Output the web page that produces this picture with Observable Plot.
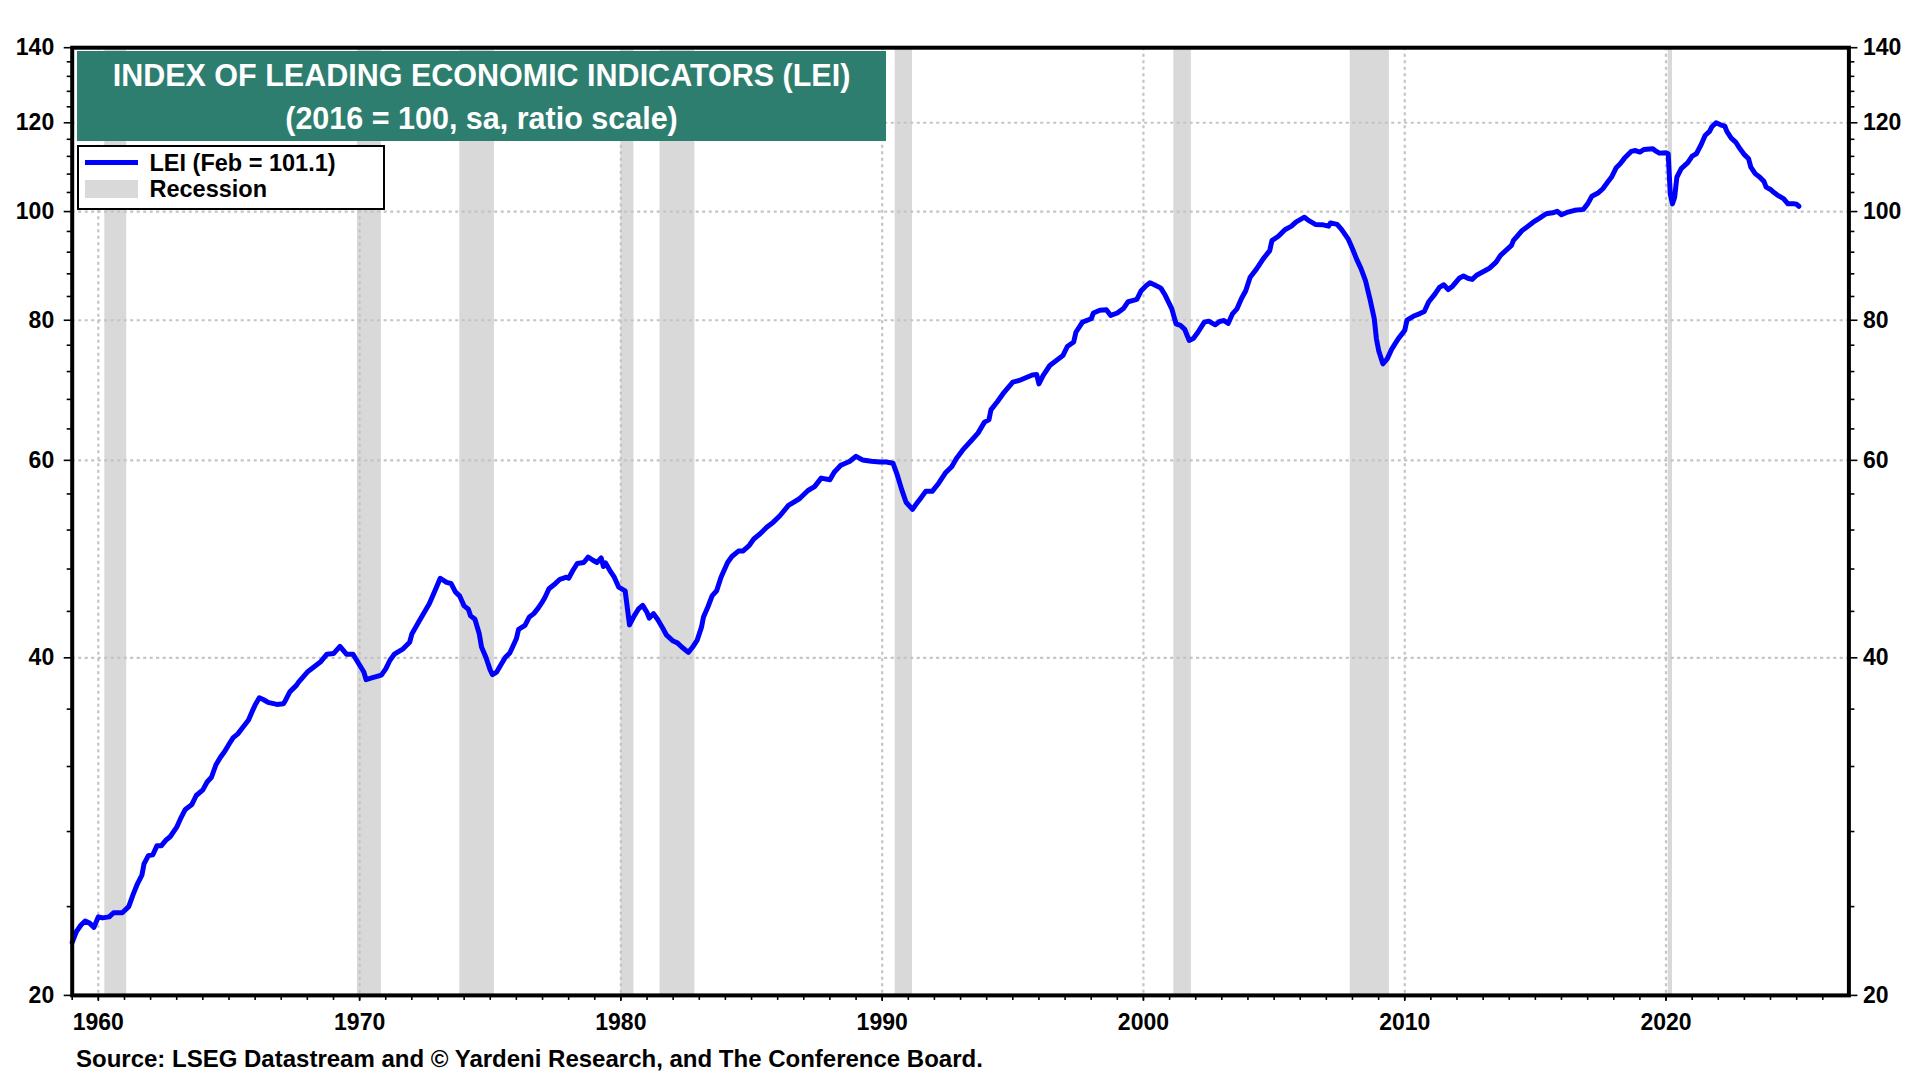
<!DOCTYPE html>
<html>
<head>
<meta charset="utf-8">
<script src="https://cdn.jsdelivr.net/npm/d3@7"></script>
<script src="https://cdn.jsdelivr.net/npm/@observablehq/plot@0.6"></script>
<style>
  html, body { margin: 0; padding: 0; background: #fff; }
  #wrap { position: relative; width: 1920px; height: 1080px; overflow: hidden;
          font-family: "Liberation Sans", Arial, sans-serif; font-weight: bold; color: #000; }
  #chart { position: absolute; left: 0; top: 0; }
  #title { position: absolute; left: 77px; top: 51px; width: 809px; height: 90px;
           background: #2e7e70; color: #fff; font-size: 30.5px; }
  #title div { position: absolute; left: 0; width: 100%; text-align: center; line-height: 36px; white-space: nowrap; }
  #legend { position: absolute; left: 77.3px; top: 145px; width: 308px; height: 64.5px;
            box-sizing: border-box; border: 2.5px solid #000; background: #fff; font-size: 23.5px; }
  #legend .sw { position: absolute; }
  #legend .lb { position: absolute; line-height: 28px; white-space: nowrap; }
  #source { position: absolute; left: 76px; top: 1045px; font-size: 24px; line-height: 28px; white-space: nowrap; }
</style>
</head>
<body>
<div id="wrap">
  <div id="chart"></div>
  <div id="title">
    <div style="top:6.3px">INDEX OF LEADING ECONOMIC INDICATORS (LEI)</div>
    <div style="top:48.8px">(2016 = 100, sa, ratio scale)</div>
  </div>
  <div id="legend">
    <div class="sw" style="left:6.2px;top:13px;width:53px;height:4.6px;background:#0000ff"></div>
    <div class="lb" style="left:70.2px;top:2.3px">LEI (Feb = 101.1)</div>
    <div class="sw" style="left:6.2px;top:32.5px;width:53px;height:18px;background:#d9d9d9"></div>
    <div class="lb" style="left:70.2px;top:27.8px">Recession</div>
  </div>
  <div id="source">Source: LSEG Datastream and © Yardeni Research, and The Conference Board.</div>
</div>
<script>
// ---- data ----
const months = [
"1959-01","1959-03","1959-05","1959-07","1959-09","1959-11","1960-01","1960-03","1960-06","1960-08","1960-12",
"1961-03","1961-05","1961-07","1961-09","1961-10","1961-12","1962-02","1962-04","1962-06","1962-08","1962-10",
"1963-01","1963-03","1963-05","1963-08","1963-10","1964-01","1964-03","1964-05","1964-07","1964-09","1964-11",
"1965-01","1965-03","1965-05","1965-07","1965-10","1965-12","1966-01","1966-03","1966-05","1966-07","1966-11",
"1967-02","1967-03","1967-05","1967-08","1967-09","1967-11","1968-01","1968-04","1968-07","1968-10",
"1969-01","1969-04","1969-07","1969-10","1969-12","1970-03","1970-04","1970-07","1970-11",
"1971-01","1971-03","1971-05","1971-09","1971-12","1972-01","1972-04","1972-09","1972-12",
"1973-02","1973-05","1973-07","1973-09","1973-11","1974-01","1974-03","1974-04","1974-06","1974-08","1974-09","1974-11",
"1975-01","1975-02","1975-04","1975-06","1975-08","1975-10","1975-11","1976-01","1976-02","1976-05","1976-07","1976-09","1976-11",
"1977-01","1977-02","1977-04","1977-07","1977-09","1977-12","1978-01","1978-03","1978-05","1978-08","1978-10","1978-12",
"1979-02","1979-04","1979-05","1979-06","1979-08","1979-10","1979-12","1980-03","1980-05","1980-07","1980-09","1980-11",
"1981-01","1981-02","1981-04","1981-06","1981-08","1981-10","1982-01","1982-03","1982-05","1982-08","1982-10","1982-12",
"1983-02","1983-03","1983-05","1983-07","1983-09","1983-11","1984-02","1984-04","1984-07","1984-09","1984-12",
"1985-02","1985-05","1985-08","1985-11","1986-02","1986-06","1986-11","1987-03","1987-06","1987-09",
"1988-01","1988-03","1988-06","1988-10","1989-01","1989-04","1989-08","1989-12","1990-03","1990-06","1990-08","1990-10","1990-12",
"1991-03","1991-05","1991-07","1991-09","1991-12","1992-03","1992-06","1992-09","1992-11","1993-02","1993-06","1993-09","1993-12",
"1994-02","1994-03","1994-06","1994-09","1995-01","1995-04","1995-07","1995-10","1995-12","1996-01","1996-03","1996-06","1996-09","1996-12",
"1997-02","1997-05","1997-06","1997-09","1998-01","1998-02","1998-05","1998-08","1998-10","1999-01","1999-04","1999-06","1999-08","1999-10","1999-12",
"2000-02","2000-04","2000-06","2000-09","2000-11","2001-02","2001-04","2001-06","2001-08","2001-10","2001-12",
"2002-02","2002-05","2002-07","2002-10","2002-12","2003-02","2003-04","2003-06","2003-08","2003-10","2003-12",
"2004-02","2004-05","2004-08","2004-11","2004-12","2005-03","2005-06","2005-09","2005-11","2006-03","2006-05","2006-08","2006-11",
"2007-02","2007-03","2007-06","2007-08","2007-11","2008-01","2008-03","2008-05","2008-07","2008-09","2008-11","2008-12",
"2009-01","2009-03","2009-05","2009-07","2009-10","2010-01","2010-02","2010-05","2010-08","2010-10","2010-12",
"2011-03","2011-05","2011-07","2011-09","2011-11","2012-02","2012-04","2012-06","2012-08","2012-10",
"2013-02","2013-04","2013-07","2013-09","2013-11","2014-02","2014-03","2014-05","2014-07","2014-09","2014-12",
"2015-03","2015-06","2015-09","2015-11","2016-01","2016-04","2016-07","2016-11","2017-01","2017-03","2017-06","2017-08","2017-10","2017-12",
"2018-02","2018-04","2018-06","2018-09","2018-11","2019-01","2019-03","2019-07","2019-08","2019-10",
"2020-01","2020-02","2020-03","2020-04","2020-05","2020-06","2020-08","2020-11","2021-01","2021-03","2021-05","2021-07","2021-09","2021-10","2021-12",
"2022-02","2022-04","2022-05","2022-07","2022-09","2022-11","2023-01","2023-03","2023-04","2023-06","2023-08","2023-10","2023-11",
"2024-01","2024-02","2024-04","2024-07","2024-09","2024-12","2025-01","2025-02"
];
const lei = [
22.3,22.8,23.1,23.3,23.2,23.0,23.5,23.45,23.5,23.7,23.7,
24.0,24.6,25.15,25.6,26.2,26.65,26.7,27.2,27.2,27.5,27.7,
28.25,28.8,29.3,29.6,30.15,30.5,31.0,31.3,32.1,32.6,33.0,
33.5,33.95,34.2,34.6,35.2,35.95,36.3,36.85,36.7,36.5,36.35,
36.4,36.65,37.3,37.8,38.05,38.45,38.85,39.25,39.65,40.3,
40.35,40.95,40.3,40.3,39.7,38.85,38.25,38.4,38.6,
39.1,39.8,40.3,40.75,41.3,42.0,43.0,44.7,46.1,
47.1,46.7,46.6,45.8,45.4,44.5,44.2,43.6,43.3,42.0,40.9,40.05,
39.0,38.65,38.85,39.45,40.05,40.4,40.8,41.6,42.4,42.75,43.5,43.8,44.3,
44.9,45.25,46.1,46.6,47.0,47.2,47.1,47.85,48.55,48.65,49.2,48.9,
48.65,49.1,48.25,48.6,47.85,47.2,46.25,45.9,42.8,43.55,44.2,44.55,
43.9,43.4,43.8,43.25,42.6,41.9,41.4,41.25,40.9,40.45,40.9,41.45,
42.6,43.5,44.4,45.45,45.9,47.2,48.65,49.25,49.8,49.8,50.4,
51.05,51.6,52.3,52.85,53.55,54.7,55.45,56.4,56.85,57.85,
57.65,58.55,59.4,59.85,60.5,60.05,59.9,59.8,59.8,59.65,58.2,56.5,55.05,
54.25,54.95,55.6,56.3,56.3,57.25,58.45,59.25,60.2,61.3,62.5,63.45,64.9,
65.2,66.55,67.7,69.0,70.45,70.7,71.1,71.5,71.55,70.2,71.45,72.9,73.65,74.4,
75.8,76.5,78.05,79.7,80.25,81.2,81.65,81.75,80.8,81.2,82.0,83.1,83.3,83.5,85.0,
85.8,86.4,86.05,85.45,84.2,81.9,79.4,79.15,78.5,76.75,77.1,
78.05,79.7,79.85,79.25,79.8,79.95,79.5,81.1,81.9,83.6,85.0,
87.4,88.9,90.75,92.3,94.2,95.05,96.35,97.05,97.85,98.85,98.15,97.4,97.35,
97.05,97.7,97.4,96.4,94.55,92.65,90.65,88.9,86.8,83.6,80.25,77.0,
75.2,73.15,73.9,75.35,77.0,78.35,80.0,80.65,81.1,81.45,83.05,
84.45,85.6,86.05,85.2,85.8,87.2,87.6,87.2,87.0,87.75,
88.6,89.05,90.15,91.4,92.15,93.3,94.25,95.2,96.2,96.85,97.85,
98.65,99.55,99.75,100.05,99.35,99.9,100.25,100.45,101.6,103.2,103.95,104.8,106.1,107.35,
109.35,110.3,111.6,113.15,113.35,113.0,113.6,113.75,113.35,112.75,
112.85,112.6,103.7,101.6,103.0,107.3,109.2,110.55,112.05,112.6,114.55,116.9,117.9,118.95,120.0,
119.5,119.2,117.9,116.3,115.35,113.75,112.4,111.45,109.55,108.1,107.35,106.4,105.15,
104.65,104.2,103.5,102.7,101.6,101.6,101.5,101.1
];
const recStart = ["1960-04","1969-12","1973-11","1980-01","1981-07","1990-07","2001-03","2007-12","2020-02"];
const recEnd   = ["1961-02","1970-11","1975-03","1980-07","1982-11","1991-03","2001-11","2009-06","2020-04"];
const decadeLabels = ["1960","1970","1980","1990","2000","2010","2020"];
const yearTicks = d3.range(1959, 2027).map(String);
const yMajor = [20, 40, 60, 80, 100, 120, 140];
const yMinor = [24,28,32,36,44,48,52,56,64,68,72,76,84,88,92,96,104,108,112,116,124,128,132,136];
const yGrid = [40, 60, 80, 100, 120];

// ---- build ----
const parseM = d3.utcParse("%Y-%m");
const parseY = d3.utcParse("%Y");
const series = months.map((m, i) => ({date: parseM(m), value: lei[i]}));
const recessions = recStart.map((s, i) => ({start: parseM(s), end: parseM(recEnd[i])}));
const decades = decadeLabels.map(parseY);
const years = yearTicks.map(parseY);

const grid = {stroke: "#c4c4c4", strokeOpacity: 1, strokeWidth: 2.2, strokeDasharray: "3,3.5"};
const tickStyle = {stroke: "#000", strokeWidth: 1.6, label: null};

const chart = Plot.plot({
  width: 1920,
  height: 1040,
  marginLeft: 71.7,
  marginRight: 71.6,
  marginTop: 47.2,
  marginBottom: 45.1,
  style: {fontFamily: '"Liberation Sans", Arial, sans-serif', fontSize: "23px", fontWeight: "bold",
          color: "#000", background: "#fff", overflow: "visible"},
  x: {type: "utc", domain: [parseM("1959-01"), parseM("2027-01")]},
  y: {type: "log", domain: [20, 140]},
  marks: [
    Plot.rect(recessions, {x1: "start", x2: "end", fill: "#d9d9d9"}),
    Plot.gridX(decades, grid),
    Plot.gridY(yGrid, grid),
    Plot.line(series, {x: "date", y: "value", stroke: "#0000ff", strokeWidth: 5}),
    Plot.axisX(years, {...tickStyle, anchor: "bottom", tickSize: 5, fill: "none"}),
    Plot.axisX(decades, {...tickStyle, anchor: "bottom", tickSize: 6, tickPadding: 12,
                         fill: "#000", tickFormat: d => String(d.getUTCFullYear())}),
    Plot.axisY(yMinor, {...tickStyle, anchor: "left", tickSize: 5, fill: "none"}),
    Plot.axisY(yMajor, {...tickStyle, anchor: "left", tickSize: 8, tickPadding: 10,
                        fill: "#000", tickFormat: d => String(d)}),
    Plot.axisY(yMinor, {...tickStyle, anchor: "right", tickSize: 5, fill: "none"}),
    Plot.axisY(yMajor, {...tickStyle, anchor: "right", tickSize: 8, tickPadding: 6,
                        fill: "#000", tickFormat: d => String(d)}),
    Plot.frame({stroke: "#000", strokeWidth: 4})
  ]
});
document.getElementById("chart").appendChild(chart);
</script>
</body>
</html>
